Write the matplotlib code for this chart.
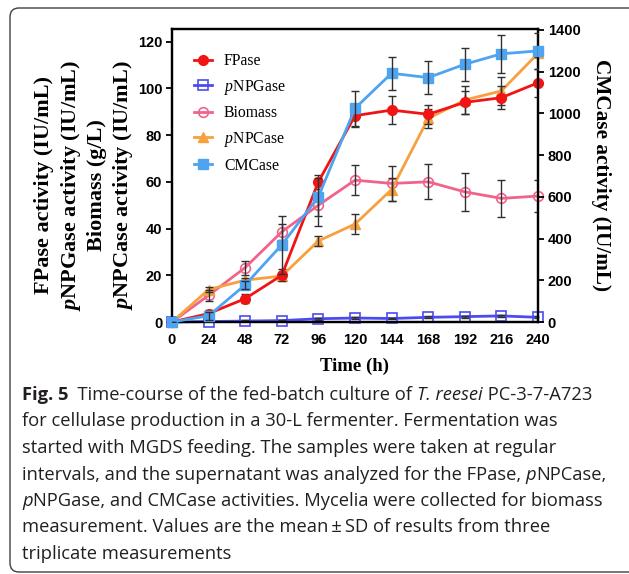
import matplotlib
matplotlib.use("Agg")
import matplotlib.pyplot as plt
from matplotlib import font_manager
from matplotlib.patches import FancyBboxPatch
from matplotlib.transforms import IdentityTransform
from matplotlib.lines import Line2D

plt.rcParams['mathtext.fontset'] = 'custom'
plt.rcParams['mathtext.rm'] = 'Liberation Serif'
plt.rcParams['mathtext.it'] = 'Liberation Serif:italic'
plt.rcParams['mathtext.bf'] = 'Liberation Serif:bold'
try:
    plt.rcParams['mathtext.bfit'] = 'Liberation Serif:italic:bold'
    BFIT = True
except KeyError:
    BFIT = False

# ---------------- data ----------------
time_h = [0, 24, 48, 72, 96, 120, 144, 168, 192, 216, 240]
fpase = [0, 3.6, 10.0, 20.0, 60.0, 88.3, 90.7, 88.9, 94.0, 96.0, 102.4]
fpase_sd = [0, 1.5, 1.8, 2.5, 3.0, 5.0, 6.0, 4.0, 5.0, 5.0, 6.0]
pnpgase = [0, 0.2, 0.4, 0.6, 1.4, 1.7, 1.5, 2.0, 2.3, 2.6, 2.0]
pnpgase_sd = [0, 0.3, 0.3, 0.3, 0.4, 0.4, 0.4, 0.4, 0.4, 0.4, 0.4]
biomass = [0, 11.4, 23.3, 38.6, 50.0, 60.7, 59.3, 60.0, 55.7, 52.9, 53.9]
biomass_sd = [0, 2.5, 3.0, 3.5, 9.0, 6.5, 7.5, 7.5, 8.0, 8.0, 7.0]
pnpcase = [0, 13.9, 17.9, 19.7, 34.7, 41.9, 56.7, 87.1, 95.0, 98.9, 115.0]
pnpcase_sd = [0, 1.0, 1.0, 1.0, 2.0, 4.3, 5.0, 4.0, 6.0, 6.0, 1.5]
cmcase = [0, 30, 178, 370, 600, 1024, 1192, 1171, 1235, 1285, 1299]
cmcase_sd = [0, 20, 20, 140, 90, 85, 80, 80, 80, 90, 85]

xticks = [0, 24, 48, 72, 96, 120, 144, 168, 192, 216, 240]
yticks_left = [0, 20, 40, 60, 80, 100, 120]
yticks_right = [0, 200, 400, 600, 800, 1000, 1200, 1400]

# ---------------- figure ----------------
W, H = 629, 574
fig = plt.figure(figsize=(W / 100, H / 100), dpi=100)

def px(x0, y0, x1, y1):
    return [x0 / W, 1 - y1 / H, (x1 - x0) / W, (y1 - y0) / H]

ax = fig.add_axes(px(172, 29, 538, 322))
ax2 = ax.twinx()

c_fp = '#f01414'
c_pg = '#4b4bf0'
c_bm = '#f0648c'
c_pc = '#f7a040'
c_cm = '#4ea4f0'
ecol = '#303030'

lw = 2.0
ms = 7
ekw = dict(ecolor=ecol, elinewidth=1.0, capsize=3, capthick=1.0)

ax.errorbar(time_h, pnpgase, yerr=pnpgase_sd, fmt='none', zorder=5, **ekw)
ax.plot(time_h, pnpgase, color=c_pg, lw=lw, marker='s', ms=ms, mfc='none',
        mec=c_pg, mew=1.2, zorder=4, clip_on=False)
ax.errorbar(time_h, biomass, yerr=biomass_sd, fmt='none', zorder=5, **ekw)
ax.plot(time_h, biomass, color=c_bm, lw=lw, marker='o', ms=ms, mfc='none',
        mec=c_bm, mew=1.2, zorder=4, clip_on=False)
ax.errorbar(time_h, pnpcase, yerr=pnpcase_sd, fmt='none', zorder=5, **ekw)
ax.plot(time_h, pnpcase, color=c_pc, lw=lw, marker='^', ms=ms, mfc=c_pc,
        mec=c_pc, zorder=4, clip_on=False)
ax.errorbar(time_h, fpase, yerr=fpase_sd, fmt='none', zorder=5, **ekw)
ax.plot(time_h, fpase, color=c_fp, lw=lw, marker='o', ms=ms, mfc=c_fp,
        mec=c_fp, zorder=6, clip_on=False)

ax2.errorbar(time_h, cmcase, yerr=cmcase_sd, fmt='none', zorder=5, **ekw)
ax2.plot(time_h, cmcase, color=c_cm, lw=lw, marker='s', ms=ms, mfc=c_cm,
         mec=c_cm, zorder=4, clip_on=False)

ax.set_xlim(0, 240)
ax.set_ylim(0, 125.4)
ax2.set_ylim(0, 1404)
ax.set_xticks(xticks)
ax.set_yticks(yticks_left)
ax2.set_yticks(yticks_right)

tickfont = dict(family='Liberation Sans', weight='bold', size=10.5)
ax.set_xticklabels([str(v) for v in xticks], **tickfont)
ax.set_yticklabels([str(v) for v in yticks_left], **tickfont)
ax2.set_yticklabels([str(v) for v in yticks_right], **tickfont)

ax.tick_params(axis='x', direction='in', length=0, pad=8)
ax.tick_params(axis='y', direction='out', length=4, width=1.3, pad=3)
ax2.tick_params(axis='y', direction='out', length=4, width=1.3, pad=3)
for a in (ax, ax2):
    for s in a.spines.values():
        s.set_linewidth(1.6)
        s.set_color('black')

# legend
handles = [
    Line2D([], [], color=c_fp, lw=lw, marker='o', ms=ms, mfc=c_fp, mec=c_fp),
    Line2D([], [], color=c_pg, lw=lw, marker='s', ms=ms, mfc='none', mec=c_pg, mew=1.2),
    Line2D([], [], color=c_bm, lw=lw, marker='o', ms=ms, mfc='none', mec=c_bm, mew=1.2),
    Line2D([], [], color=c_pc, lw=lw, marker='^', ms=ms, mfc=c_pc, mec=c_pc),
    Line2D([], [], color=c_cm, lw=lw, marker='s', ms=ms, mfc=c_cm, mec=c_cm),
]
labels = ['FPase', r'$\it{p}$NPGase', 'Biomass', r'$\it{p}$NPCase', 'CMCase']
leg = ax2.legend(handles, labels, loc='upper left', bbox_to_anchor=(0.035, 0.95),
                 frameon=False, prop=dict(family='Liberation Serif', size=11.3),
                 handlelength=1.15, handletextpad=0.75, labelspacing=0.55,
                 borderaxespad=0.2)

# axis labels
pit = r'$\mathbfit{p}$' if BFIT else r'$\it{p}$'
serif_l = dict(family='Liberation Serif', weight='bold', size=16)
ylines = [(44, 'FPase activity (IU/mL)'),
          (71, pit + 'NPGase activity (IU/mL)'),
          (97, 'Biomass (g/L)'),
          (123, pit + 'NPCase activity (IU/mL)')]
for xp, t in ylines:
    fig.text(xp / W, 1 - 185 / H, t, rotation=90, ha='center', va='center', **serif_l)
fig.text(601 / W, 1 - 175 / H, 'CMCase activity (IU/mL)', rotation=270,
         ha='center', va='center', family='Liberation Serif', weight='bold', size=15.3)
fig.text(355 / W, 1 - 366 / H, 'Time (h)', ha='center', va='center',
         family='Liberation Serif', weight='bold', size=13.5)

# frame
box = FancyBboxPatch((10, H - 572), 700, 564, boxstyle='round,pad=0,rounding_size=9',
                     transform=IdentityTransform(), fill=False, ec='#404040', lw=1.0,
                     clip_on=False)
fig.patches.append(box)

# caption
avail = {f.name for f in font_manager.fontManager.ttflist}
capfam = 'Open Sans' if 'Open Sans' in avail else 'DejaVu Sans'
capsize = 13.2
renderer = fig.canvas.get_renderer()
cap_lines = [
    [('Fig. 5', 'bold', 'normal'), ('  Time-course of the fed-batch culture of ', 'normal', 'normal'),
     ('T. reesei', 'normal', 'italic'), (' PC-3-7-A723', 'normal', 'normal')],
    [('for cellulase production in a 30-L fermenter. Fermentation was', 'normal', 'normal')],
    [('started with MGDS feeding. The samples were taken at regular', 'normal', 'normal')],
    [('intervals, and the supernatant was analyzed for the FPase, ', 'normal', 'normal'),
     ('p', 'normal', 'italic'), ('NPCase,', 'normal', 'normal')],
    [('p', 'normal', 'italic'),
     ('NPGase, and CMCase activities. Mycelia were collected for biomass', 'normal', 'normal')],
    [('measurement. Values are the mean\u2009\u00b1\u2009SD of results from three', 'normal', 'normal')],
    [('triplicate measurements', 'normal', 'normal')],
]
y0 = 393
for i, runs in enumerate(cap_lines):
    x = 22
    y = y0 + i * 26.5
    for txt, wt, st in runs:
        t = fig.text(x / W, 1 - y / H, txt, ha='left', va='center_baseline',
                     family=capfam, weight=wt, style=st, size=capsize, color='#231f20')
        bb = t.get_window_extent(renderer=renderer)
        x += bb.width

fig.savefig('out.png', dpi=100)
